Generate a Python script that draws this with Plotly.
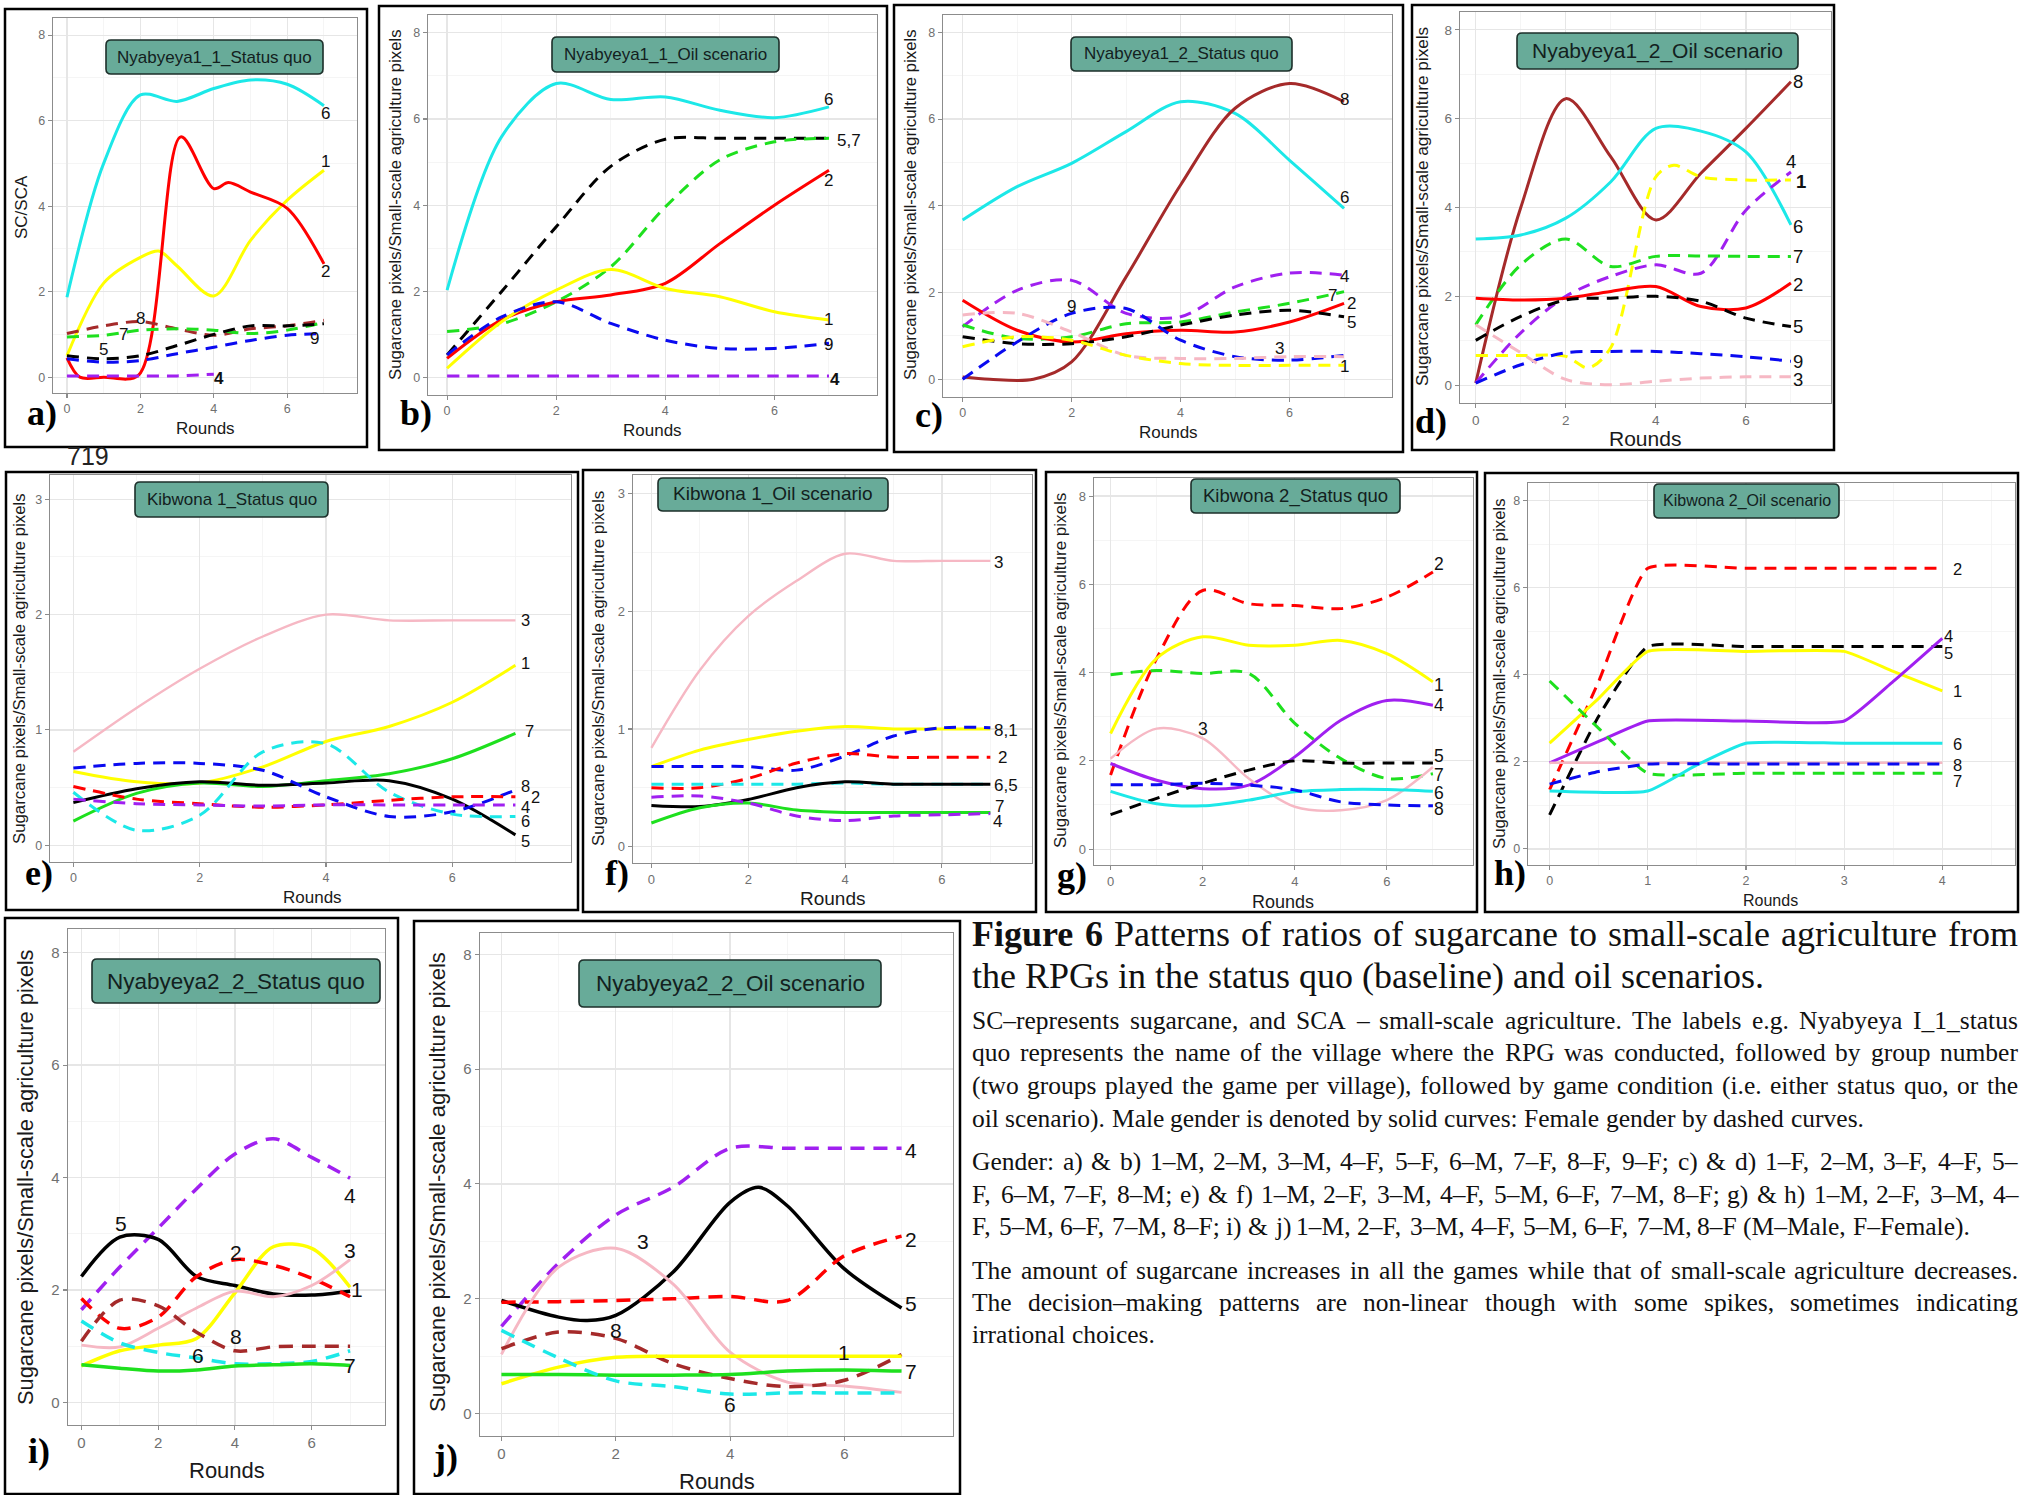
import plotly.graph_objects as go

W, H = 2022, 1495

# ====================== DATA ======================
A_ROUNDS = [0, 1, 2, 3, 4, 5, 6, 7]
A_SERIES = {
    "6": [1.87, 5.0, 6.6, 6.45, 6.75, 6.95, 6.85, 6.35],
    "1": [0.5, 2.2, 2.8, 2.95, 2.6, 1.9, 3.2, 4.14, 4.84],
    "2": [0.45, 0.0, 0.0, 0.05, 5.62, 4.41, 4.55, 4.33, 3.95, 2.65],
    "8": [1.02, 1.2, 1.3, 1.13, 0.98, 1.13, 1.2, 1.33],
    "7": [0.94, 0.98, 1.1, 1.13, 1.1, 1.02, 1.1, 1.28],
    "5": [0.5, 0.43, 0.5, 0.74, 1.0, 1.2, 1.2, 1.25],
    "9": [0.43, 0.35, 0.39, 0.55, 0.7, 0.86, 0.98, 1.02],
    "4": [0.03, 0.03, 0.03, 0.03, 0.07],
}
A_ROUNDS_ALT = {
    "1": [0, 1, 2, 2.5, 3, 4, 5, 6, 7],
    "2": [0, 0.35, 1, 1.95, 3.1, 4, 4.4, 5, 6, 7],
    "4": [0, 1, 2, 3, 4],
}

B_ROUNDS = [0, 1, 2, 3, 4, 5, 6, 7]
B_SERIES = {
    "6": [2.03, 5.59, 6.82, 6.45, 6.51, 6.2, 6.03, 6.28],
    "5": [0.53, 2.0, 3.5, 4.9, 5.53, 5.55, 5.55, 5.55],
    "7": [1.07, 1.25, 1.76, 2.57, 3.96, 5.05, 5.47, 5.55],
    "2": [0.45, 1.34, 1.76, 1.92, 2.19, 3.11, 4.0, 4.81],
    "1": [0.22, 1.3, 2.03, 2.51, 2.07, 1.88, 1.53, 1.34],
    "9": [0.53, 1.41, 1.76, 1.26, 0.87, 0.68, 0.68, 0.8],
    "4": [0.04, 0.04, 0.04, 0.04, 0.04, 0.04, 0.04, 0.04],
}
B_ROUNDS_ALT = {}

C_ROUNDS = [0, 1, 2, 3, 4, 5, 6, 7]
C_SERIES = {
    "6": [3.67, 4.44, 4.98, 5.71, 6.4, 6.13, 5.05, 3.94],
    "8": [0.05, 0.0, 0.0, 0.4, 2.36, 4.48, 6.25, 6.82, 6.4],
    "4": [1.21, 2.05, 2.28, 1.52, 1.44, 2.13, 2.45, 2.4],
    "7": [1.25, 0.94, 0.98, 1.28, 1.32, 1.55, 1.75, 2.02],
    "2": [1.82, 1.13, 0.86, 1.05, 1.13, 1.09, 1.32, 1.75],
    "5": [0.98, 0.82, 0.82, 0.98, 1.25, 1.48, 1.59, 1.44],
    "9": [0.0, 0.86, 1.52, 1.63, 0.9, 0.52, 0.44, 0.55],
    "3": [1.48, 1.52, 1.09, 0.55, 0.48, 0.48, 0.52, 0.52],
    "1": [0.75, 0.98, 0.9, 0.55, 0.36, 0.32, 0.32, 0.32],
}
C_ROUNDS_ALT = {"8": [0, 0.5, 1.3, 2, 3, 4, 5, 6, 7]}

D_ROUNDS = [0, 1, 2, 3, 4, 5, 6, 7]
D_SERIES = {
    "8": [0.05, 4.0, 6.45, 5.14, 3.72, 4.77, 5.78, 6.83],
    "6": [3.29, 3.38, 3.76, 4.58, 5.78, 5.72, 5.25, 3.61],
    "1": [0.67, 0.67, 0.65, 0.39, 0.85, 4.69, 4.95, 4.69, 4.62, 4.62],
    "4": [0.05, 1.18, 2.0, 2.45, 2.71, 2.52, 3.94, 4.8],
    "7": [1.36, 2.71, 3.29, 2.67, 2.9, 2.91, 2.9, 2.9],
    "2": [1.96, 1.92, 1.96, 2.11, 2.22, 1.77, 1.74, 2.3],
    "5": [1.01, 1.55, 1.92, 1.96, 2.0, 1.89, 1.51, 1.32],
    "9": [0.05, 0.46, 0.73, 0.76, 0.76, 0.71, 0.64, 0.54],
    "3": [1.36, 0.73, 0.13, 0.01, 0.09, 0.16, 0.19, 0.19],
}
D_ROUNDS_ALT = {"1": [0, 1, 2, 2.5, 3, 4, 4.4, 5, 6, 7]}

E_ROUNDS = [0, 1, 2, 3, 4, 5, 6, 7]
E_SERIES = {
    "3": [0.81, 1.19, 1.53, 1.81, 2.0, 1.95, 1.95, 1.95],
    "1": [0.64, 0.55, 0.54, 0.68, 0.9, 1.03, 1.24, 1.56],
    "7": [0.21, 0.45, 0.54, 0.51, 0.56, 0.62, 0.75, 0.97],
    "5": [0.37, 0.49, 0.55, 0.52, 0.54, 0.56, 0.4, 0.09],
    "8": [0.67, 0.71, 0.71, 0.65, 0.42, 0.25, 0.29, 0.48],
    "6": [0.46, 0.13, 0.26, 0.81, 0.88, 0.46, 0.27, 0.25],
    "2": [0.51, 0.4, 0.36, 0.33, 0.35, 0.39, 0.42, 0.42],
    "4": [0.4, 0.36, 0.35, 0.34, 0.35, 0.35, 0.35, 0.35],
}
E_ROUNDS_ALT = {}

F_ROUNDS = [0, 1, 2, 3, 4, 5, 6, 7]
F_SERIES = {
    "3": [0.84, 1.5, 1.96, 2.26, 2.49, 2.43, 2.43, 2.43],
    "1": [0.68, 0.82, 0.91, 0.98, 1.02, 1.0, 1.0, 1.0],
    "8": [0.68, 0.68, 0.68, 0.65, 0.77, 0.94, 1.01, 1.01],
    "2": [0.5, 0.5, 0.58, 0.71, 0.79, 0.76, 0.76, 0.76],
    "6": [0.53, 0.53, 0.53, 0.53, 0.54, 0.53, 0.53, 0.53],
    "5": [0.35, 0.34, 0.4, 0.5, 0.55, 0.53, 0.53, 0.53],
    "7": [0.2, 0.33, 0.37, 0.31, 0.29, 0.29, 0.29, 0.29],
    "4": [0.42, 0.43, 0.37, 0.26, 0.22, 0.26, 0.27, 0.28],
}
F_ROUNDS_ALT = {}

G_ROUNDS = [0, 1, 2, 3, 4, 5, 6, 7]
G_SERIES = {
    "2": [1.68, 4.32, 5.86, 5.56, 5.52, 5.45, 5.71, 6.28],
    "1": [2.62, 4.32, 4.81, 4.62, 4.62, 4.73, 4.43, 3.79],
    "7": [3.95, 4.05, 3.98, 3.98, 2.85, 2.05, 1.6, 1.71],
    "4": [1.94, 1.56, 1.37, 1.45, 2.09, 2.92, 3.37, 3.26],
    "3": [2.05, 2.73, 2.51, 1.6, 0.96, 0.88, 1.11, 1.86],
    "5": [0.78, 1.15, 1.49, 1.79, 2.0, 1.95, 1.95, 1.95],
    "6": [1.31, 1.03, 0.98, 1.11, 1.3, 1.35, 1.35, 1.31],
    "8": [1.46, 1.46, 1.49, 1.45, 1.34, 1.07, 1.0, 0.98],
}
G_ROUNDS_ALT = {}

H_ROUNDS = [0, 0.5, 1, 2, 3, 3.5, 4]
H_SERIES = {
    "2": [1.36, 3.85, 6.45, 6.45, 6.45, 6.45, 6.45],
    "5": [0.78, 3.05, 4.65, 4.65, 4.65, 4.65, 4.65],
    "1": [2.43, 3.46, 4.54, 4.54, 4.54, 4.08, 3.63],
    "4": [1.98, 2.47, 2.94, 2.94, 2.94, 3.85, 4.84],
    "7": [3.86, 2.77, 1.74, 1.74, 1.74, 1.74, 1.74],
    "3": [1.98, 1.98, 1.98, 1.98, 1.98, 1.98, 1.98],
    "6": [1.33, 1.33, 1.93, 2.43, 2.43, 2.43],
    "8": [1.49, 1.78, 1.95, 1.95, 1.95, 1.95, 1.95],
}
H_ROUNDS_ALT = {"6": [0, 1, 1.5, 2, 3, 4]}

I_ROUNDS = [0, 1, 2, 3, 4, 5, 6, 7]
I_SERIES = {
    "4": [1.65, 2.41, 3.1, 3.8, 4.42, 4.69, 4.36, 3.99],
    "5": [2.24, 2.94, 2.9, 2.24, 2.08, 1.93, 1.91, 1.98],
    "1": [0.65, 0.92, 1.02, 1.14, 1.95, 2.77, 2.74, 2.05],
    "2": [1.85, 1.32, 1.52, 2.24, 2.54, 2.44, 2.21, 1.88],
    "3": [1.02, 0.99, 1.32, 1.68, 1.98, 1.88, 2.08, 2.54],
    "8": [1.09, 1.82, 1.72, 1.25, 0.92, 0.99, 1.0, 1.0],
    "6": [1.45, 1.06, 0.89, 0.79, 0.69, 0.69, 0.73, 0.92],
    "7": [0.67, 0.61, 0.56, 0.58, 0.65, 0.67, 0.69, 0.66],
}
I_ROUNDS_ALT = {}

J_ROUNDS = [0, 1, 2, 3, 4, 5, 6, 7]
J_SERIES = {
    "4": [1.52, 2.62, 3.46, 3.94, 4.62, 4.62, 4.62, 4.62],
    "5": [1.97, 1.68, 1.62, 1.71, 2.46, 3.68, 3.94, 3.62, 2.52, 1.84],
    "2": [1.94, 1.95, 1.97, 2.0, 2.04, 1.97, 2.75, 3.09],
    "3": [1.03, 2.55, 2.88, 2.26, 1.07, 0.55, 0.48, 0.37],
    "8": [1.13, 1.42, 1.31, 0.87, 0.61, 0.47, 0.58, 1.03],
    "1": [0.52, 0.81, 0.98, 1.0, 1.0, 1.0, 1.0, 1.0],
    "7": [0.68, 0.68, 0.67, 0.67, 0.68, 0.74, 0.76, 0.74],
    "6": [1.45, 0.97, 0.57, 0.47, 0.34, 0.36, 0.36, 0.36],
}
J_ROUNDS_ALT = {"5": [0, 1, 1.5, 2, 3, 4, 4.5, 5, 6, 7]}

TITLES = ["Nyabyeya1_1_Status quo", "Nyabyeya1_1_Oil scenario", "Nyabyeya1_2_Status quo",
          "Nyabyeya1_2_Oil scenario", "Kibwona 1_Status quo", "Kibwona 1_Oil scenario",
          "Kibwona 2_Status quo", "Kibwona 2_Oil scenario", "Nyabyeya2_2_Status quo",
          "Nyabyeya2_2_Oil scenario"]
LETTERS = ["a)", "b)", "c)", "d)", "e)", "f)", "g)", "h)", "i)", "j)"]
YTITLE_LONG = "Sugarcane pixels/Small-scale agriculture pixels"
YTITLE_SHORT = "SC/SCA"
XTITLE = "Rounds"

CAPTION_TITLE = [
    "Figure 6 Patterns of ratios of sugarcane to small-scale agriculture from",
    "the RPGs in the status quo (baseline) and oil scenarios.",
]
CAPTION_PARAS = [
    ["SC–represents sugarcane, and SCA – small-scale agriculture. The labels e.g. Nyabyeya I_1_status",
     "quo represents the name of the village where the RPG was conducted, followed by group number",
     "(two groups played the game per village), followed by game condition (i.e. either status quo, or the",
     "oil scenario). Male gender is denoted by solid curves: Female gender by dashed curves."],
    ["Gender: a) & b) 1–M, 2–M, 3–M, 4–F, 5–F, 6–M, 7–F, 8–F, 9–F; c) & d) 1–F, 2–M, 3–F, 4–F, 5–",
     "F, 6–M, 7–F, 8–M; e) & f) 1–M, 2–F, 3–M, 4–F, 5–M, 6–F, 7–M, 8–F; g) & h) 1–M, 2–F, 3–M, 4–",
     "F, 5–M, 6–F, 7–M, 8–F; i) & j) 1–M, 2–F, 3–M, 4–F, 5–M, 6–F, 7–M, 8–F (M–Male, F–Female)."],
    ["The amount of sugarcane increases in all the games while that of small-scale agriculture decreases.",
     "The decision–making patterns are non-linear though with some spikes, sometimes indicating",
     "irrational choices."],
]

# ====================== STYLES ======================
YELLOW, RED, PINK, PURPLE = "#FFFF00", "#FF0000", "#F6B8C4", "#A020F0"
BLACK, CYAN, GREEN, BROWN, BLUE = "#000000", "#1CE8E8", "#1EE01E", "#A52A2A", "#0A0AF0"
COLORS_1 = {"1": YELLOW, "2": RED, "3": PINK, "4": PURPLE, "5": BLACK,
            "6": CYAN, "7": GREEN, "8": BROWN, "9": BLUE}
COLORS_2 = dict(COLORS_1, **{"8": BLUE})
SANS = "Liberation Sans"
SERIF = "Liberation Serif"
TEAL = "#68AB99"

PANELS = [
    dict(rounds=A_ROUNDS, series=A_SERIES, alt=A_ROUNDS_ALT, colors=COLORS_1,
         dashed={"8", "7", "5", "9", "4"}, ytitle=YTITLE_SHORT,
         box=(5, 9, 367, 447), plot=(53, 18, 357, 393), xr=(-0.38, 7.9), yr=(-0.37, 8.4),
         xdt=2, ydt=2, tbox=(106, 40, 323, 74), tfs=17, yt=(22, 207), xt=(205, 428), afs=17, ytfs=17,
         letter=(42, 413), lfs=17, tkfs=12.5, lw=3, smooth=0.9,
         labels=[("6", 7.05, 6.17, 0), ("1", 7.05, 5.04, 0), ("2", 7.05, 2.48, 0), ("8", 2.0, 1.37, 0),
                 ("7", 1.53, 0.99, 0), ("5", 1.0, 0.64, 0), ("9", 6.73, 0.9, 0), ("4", 4.14, -0.04, 1)]),
    dict(rounds=B_ROUNDS, series=B_SERIES, alt=B_ROUNDS_ALT, colors=COLORS_1,
         dashed={"5", "7", "9", "4"}, ytitle=YTITLE_LONG,
         box=(379, 6, 887, 450), plot=(428, 15, 877, 395), xr=(-0.35, 7.88), yr=(-0.40, 8.41),
         xdt=2, ydt=2, tbox=(552, 37, 779, 72), tfs=17, yt=(395, 205), xt=(652, 430), afs=17, ytfs=16.8,
         letter=(416, 413), lfs=17, tkfs=12.5, lw=3, smooth=0.9,
         labels=[("6", 6.99, 6.44, 0), ("5,7", 7.36, 5.51, 0), ("2", 7.0, 4.58, 0), ("1", 7.0, 1.35, 0),
                 ("9", 7.0, 0.76, 0), ("4", 7.11, -0.03, 1)]),
    dict(rounds=C_ROUNDS, series=C_SERIES, alt=C_ROUNDS_ALT, colors=COLORS_1,
         dashed={"4", "7", "5", "9", "3", "1"}, ytitle=YTITLE_LONG,
         box=(894, 5, 1403, 452), plot=(943, 15, 1392, 397), xr=(-0.36, 7.88), yr=(-0.41, 8.4),
         xdt=2, ydt=2, tbox=(1071, 37, 1292, 71), tfs=17, yt=(910, 205), xt=(1168, 432), afs=17, ytfs=16.8,
         letter=(929, 415), lfs=17, tkfs=12.5, lw=3, smooth=0.9,
         labels=[("8", 7.01, 6.45, 0), ("6", 7.01, 4.2, 0), ("4", 7.01, 2.38, 0), ("7", 6.79, 1.94, 0),
                 ("2", 7.13, 1.75, 0), ("5", 7.13, 1.3, 0), ("3", 5.82, 0.71, 0), ("1", 7.01, 0.3, 0),
                 ("9", 2.0, 1.68, 0)]),
    dict(rounds=D_ROUNDS, series=D_SERIES, alt=D_ROUNDS_ALT, colors=COLORS_1,
         dashed={"4", "7", "5", "9", "3", "1"}, ytitle=YTITLE_LONG,
         box=(1412, 5, 1834, 450), plot=(1460, 12, 1831, 403), xr=(-0.35, 7.89), yr=(-0.4, 8.4),
         xdt=2, ydt=2, tbox=(1517, 33, 1798, 69), tfs=21, yt=(1422, 207), xt=(1645, 438), afs=21, ytfs=17.2,
         letter=(1431, 421), lfs=18.5, tkfs=13.5, lw=3, smooth=0.9,
         labels=[("8", 7.15, 6.83, 0), ("4", 7.0, 5.03, 0), ("1", 7.22, 4.58, 1), ("6", 7.15, 3.57, 0),
                 ("7", 7.15, 2.9, 0), ("2", 7.15, 2.26, 0), ("5", 7.15, 1.32, 0), ("9", 7.15, 0.54, 0),
                 ("3", 7.15, 0.13, 0)]),
    dict(rounds=E_ROUNDS, series=E_SERIES, alt=E_ROUNDS_ALT, colors=COLORS_2,
         dashed={"8", "6", "2", "4"}, ytitle=YTITLE_LONG,
         box=(6, 472, 578, 910), plot=(50, 475, 571, 862), xr=(-0.37, 7.88), yr=(-0.145, 3.21),
         xdt=2, ydt=1, tbox=(135, 482, 328, 517), tfs=17, yt=(19, 669), xt=(312, 897), afs=17, ytfs=16.8,
         letter=(39, 873), lfs=16.5, tkfs=12.5, lw=3, smooth=0.9,
         labels=[("3", 7.16, 1.95, 0), ("1", 7.16, 1.58, 0), ("7", 7.23, 0.99, 0), ("8", 7.16, 0.51, 0),
                 ("2", 7.32, 0.42, 0), ("4", 7.16, 0.33, 0), ("6", 7.16, 0.21, 0), ("5", 7.16, 0.04, 0)]),
    dict(rounds=F_ROUNDS, series=F_SERIES, alt=F_ROUNDS_ALT, colors=COLORS_2,
         dashed={"8", "6", "2", "4"}, ytitle=YTITLE_LONG,
         box=(583, 470, 1036, 912), plot=(633, 475, 1032, 863), xr=(-0.38, 7.86), yr=(-0.14, 3.16),
         xdt=2, ydt=1, tbox=(658, 478, 888, 511), tfs=19, yt=(598, 669), xt=(833, 898), afs=19, ytfs=17,
         letter=(617, 873), lfs=17, tkfs=13, lw=3, smooth=0.9,
         labels=[("3", 7.16, 2.42, 0), ("8,1", 7.33, 0.99, 0), ("2", 7.26, 0.76, 0), ("6,5", 7.33, 0.52, 0),
                 ("7", 7.19, 0.34, 0), ("4", 7.14, 0.21, 0)]),
    dict(rounds=G_ROUNDS, series=G_SERIES, alt=G_ROUNDS_ALT, colors=COLORS_2,
         dashed={"2", "7", "5", "8"}, ytitle=YTITLE_LONG,
         box=(1046, 472, 1477, 912), plot=(1094, 478, 1473, 865), xr=(-0.36, 7.87), yr=(-0.36, 8.41),
         xdt=2, ydt=2, tbox=(1191, 479, 1400, 513), tfs=18.5, yt=(1060, 671), xt=(1283, 902), afs=18, ytfs=17,
         letter=(1072, 875), lfs=17.5, tkfs=13, lw=3, smooth=0.9,
         labels=[("2", 7.14, 6.45, 0), ("1", 7.14, 3.71, 0), ("4", 7.14, 3.26, 0), ("3", 2.01, 2.73, 0),
                 ("5", 7.14, 2.12, 0), ("7", 7.14, 1.68, 0), ("6", 7.14, 1.28, 0), ("8", 7.14, 0.92, 0)]),
    dict(rounds=H_ROUNDS, series=H_SERIES, alt=H_ROUNDS_ALT, colors=COLORS_2,
         dashed={"2", "7", "5", "8"}, ytitle=YTITLE_LONG,
         box=(1485, 473, 2018, 912), plot=(1528, 483, 2015, 865), xr=(-0.22, 4.74), yr=(-0.37, 8.41),
         xdt=1, ydt=2, tbox=(1654, 484, 1839, 518), tfs=16, yt=(1499, 674), xt=(1770, 900), afs=16, ytfs=16.8,
         letter=(1510, 873), lfs=16.5, tkfs=12.5, lw=3, smooth=0.45,
         labels=[("2", 4.15, 6.44, 0), ("4", 4.06, 4.9, 0), ("5", 4.06, 4.5, 0), ("1", 4.15, 3.62, 0),
                 ("6", 4.15, 2.41, 0), ("8", 4.15, 1.93, 0), ("7", 4.15, 1.56, 0)]),
    dict(rounds=I_ROUNDS, series=I_SERIES, alt=I_ROUNDS_ALT, colors=COLORS_1,
         dashed={"4", "2", "8", "6"}, ytitle=YTITLE_LONG,
         box=(5, 918, 398, 1494), plot=(68, 929, 385, 1425), xr=(-0.35, 7.91), yr=(-0.4, 8.42),
         xdt=2, ydt=2, tbox=(92, 959, 380, 1003), tfs=22.5, yt=(25, 1177), xt=(227, 1470), afs=22, ytfs=21.8,
         letter=(39, 1451), lfs=21, tkfs=15, lw=3.5, smooth=0.9,
         labels=[("4", 7.0, 3.68, 0), ("5", 1.02, 3.18, 0), ("2", 4.02, 2.67, 0), ("3", 7.0, 2.71, 0),
                 ("1", 7.17, 2.01, 0), ("8", 4.02, 1.17, 0), ("6", 3.04, 0.83, 0), ("7", 7.0, 0.65, 0)]),
    dict(rounds=J_ROUNDS, series=J_SERIES, alt=J_ROUNDS_ALT, colors=COLORS_1,
         dashed={"4", "2", "8", "6"}, ytitle=YTITLE_LONG,
         box=(414, 921, 960, 1494), plot=(480, 933, 953, 1436), xr=(-0.375, 7.9), yr=(-0.39, 8.37),
         xdt=2, ydt=2, tbox=(579, 960, 881, 1007), tfs=22.5, yt=(437, 1182), xt=(717, 1481), afs=22, ytfs=22,
         letter=(445, 1457), lfs=21, tkfs=15, lw=3.5, smooth=0.9,
         labels=[("4", 7.16, 4.59, 0), ("2", 7.16, 3.04, 0), ("5", 7.16, 1.91, 0), ("3", 2.48, 2.99, 0),
                 ("8", 2.0, 1.45, 0), ("1", 6.0, 1.07, 0), ("7", 7.16, 0.74, 0), ("6", 4.0, 0.16, 0)]),
]


def PX(v):
    return v / W


def PY(v):
    return 1 - v / H


def rounded_path(x0, y0, x1, y1, r):
    X = lambda v: f"{PX(v):.6f}"
    Y = lambda v: f"{PY(v):.6f}"
    return (f"M {X(x0 + r)},{Y(y0)} L {X(x1 - r)},{Y(y0)} Q {X(x1)},{Y(y0)} {X(x1)},{Y(y0 + r)} "
            f"L {X(x1)},{Y(y1 - r)} Q {X(x1)},{Y(y1)} {X(x1 - r)},{Y(y1)} "
            f"L {X(x0 + r)},{Y(y1)} Q {X(x0)},{Y(y1)} {X(x0)},{Y(y1 - r)} "
            f"L {X(x0)},{Y(y0 + r)} Q {X(x0)},{Y(y0)} {X(x0 + r)},{Y(y0)} Z")


fig = go.Figure()
annotations = []
shapes = []
layout_axes = {}

for n, p in enumerate(PANELS, start=1):
    xa = "x" if n == 1 else f"x{n}"
    ya = "y" if n == 1 else f"y{n}"
    # curves
    for lab, vals in p["series"].items():
        xs = p["alt"].get(lab, p["rounds"])
        col = p["colors"][lab]
        dashed = lab in p["dashed"]
        width = p["lw"]
        if col == PINK and not dashed:
            width = p["lw"] - 0.6
        dash = ("14px,9px" if p["lw"] > 3.2 else "12px,8px") if dashed else "solid"
        fig.add_trace(go.Scatter(
            x=xs, y=vals, xaxis=xa, yaxis=ya, mode="lines", hoverinfo="skip", showlegend=False,
            line=dict(color=col, width=width, dash=dash, shape="spline", smoothing=p["smooth"])))
    # axes
    px0, py0, px1, py1 = p["plot"]
    common = dict(showline=True, mirror=True, linecolor="#8c8c8c", linewidth=1.3,
                  ticks="outside", ticklen=4, tickwidth=1.1, tickcolor="#8c8c8c",
                  tickfont=dict(family=SANS, size=p["tkfs"], color="#707070"),
                  showgrid=True, gridcolor="#E6E6E6", gridwidth=1.2, zeroline=False,
                  fixedrange=True, tick0=0)
    layout_axes["xaxis" if n == 1 else f"xaxis{n}"] = dict(
        common, domain=[PX(px0), PX(px1)], anchor=ya, range=list(p["xr"]), dtick=p["xdt"],
        minor=dict(dtick=p["xdt"] / 2, tick0=0, showgrid=True, gridcolor="#F2F2F2", gridwidth=0.8))
    layout_axes["yaxis" if n == 1 else f"yaxis{n}"] = dict(
        common, domain=[PY(py1), PY(py0)], anchor=xa, range=list(p["yr"]), dtick=p["ydt"],
        minor=dict(dtick=p["ydt"] / 2, tick0=0, showgrid=True, gridcolor="#F2F2F2", gridwidth=0.8))
    # outer frame
    bx0, by0, bx1, by1 = p["box"]
    shapes.append(dict(type="rect", xref="paper", yref="paper", x0=PX(bx0), x1=PX(bx1),
                       y0=PY(by1), y1=PY(by0), line=dict(color="#000000", width=2.5),
                       fillcolor="rgba(0,0,0,0)", layer="above"))
    # title box
    tx0, ty0, tx1, ty1 = p["tbox"]
    shapes.append(dict(type="path", xref="paper", yref="paper",
                       path=rounded_path(tx0, ty0, tx1, ty1, 5),
                       fillcolor=TEAL, line=dict(color="#1c2f2a", width=1.6), layer="above"))
    annotations.append(dict(x=PX((tx0 + tx1) / 2), y=PY((ty0 + ty1) / 2), xref="paper", yref="paper",
                            text=TITLES[n - 1], showarrow=False, xanchor="center", yanchor="middle",
                            font=dict(family=SANS, size=p["tfs"], color="#13211e")))
    # axis titles
    annotations.append(dict(x=PX(p["yt"][0]), y=PY(p["yt"][1]), xref="paper", yref="paper",
                            text=p["ytitle"], textangle=-90, showarrow=False,
                            xanchor="center", yanchor="middle",
                            font=dict(family=SANS, size=p["ytfs"], color="#1a1a1a")))
    annotations.append(dict(x=PX(p["xt"][0]), y=PY(p["xt"][1]), xref="paper", yref="paper",
                            text=XTITLE, showarrow=False, xanchor="center", yanchor="middle",
                            font=dict(family=SANS, size=p["afs"], color="#1a1a1a")))
    # panel letter
    annotations.append(dict(x=PX(p["letter"][0]), y=PY(p["letter"][1]), xref="paper", yref="paper",
                            text=f"<b>{LETTERS[n - 1]}</b>", showarrow=False,
                            xanchor="center", yanchor="middle",
                            font=dict(family=SERIF, size=36, color="#000000")))
    # curve labels
    for txt, lx, ly, bold in p["labels"]:
        annotations.append(dict(x=lx, y=ly, xref=xa, yref=ya, showarrow=False,
                                text=f"<b>{txt}</b>" if bold else txt,
                                xanchor="center", yanchor="middle",
                                font=dict(family=SANS, size=p["lfs"], color="#111111")))

# stray page number
annotations.append(dict(x=PX(88), y=PY(456), xref="paper", yref="paper", text="719",
                        showarrow=False, xanchor="center", yanchor="middle",
                        font=dict(family=SANS, size=25, color="#222222")))

# ---------------- caption (justified with Times metrics) ----------------
TW = {' ': 250, '!': 333, '(': 333, ')': 333, ',': 250, '-': 333, '.': 250, '/': 278,
      ':': 278, ';': 278, '&': 778, '_': 500, '–': 500, "'": 333}
for d in "0123456789":
    TW[d] = 500
TW.update(dict(A=722, B=667, C=667, D=722, E=611, F=556, G=722, H=722, I=333, J=389, K=722,
               L=611, M=889, N=722, O=722, P=556, Q=722, R=667, S=556, T=611, U=722, V=722,
               W=944, X=722, Y=722, Z=611))
TW.update(dict(a=444, b=500, c=444, d=500, e=444, f=333, g=500, h=500, i=278, j=278, k=500,
               l=278, m=778, n=500, o=500, p=500, q=500, r=333, s=389, t=278, u=500, v=500,
               w=722, x=500, y=500, z=444))
TWB = dict(F=611, i=278, g=500, u=556, r=444, e=444)


def word_width(word, size, bold=False):
    tot = 0
    for ch in word:
        if bold and ch in TWB:
            tot += TWB[ch]
        else:
            tot += TW.get(ch, 500)
    return tot * size / 1000.0


CAP_X0, CAP_X1 = 972, 2018


def place_line(line, ycen, size, justify, nbold=0):
    words = line.split(" ")
    bolds = [i < nbold for i in range(len(words))]
    widths = [word_width(w, size, b) for w, b in zip(words, bolds)]
    if justify and len(words) > 1:
        gap = (CAP_X1 - CAP_X0 - sum(widths)) / (len(words) - 1)
    else:
        gap = 250 * size / 1000.0
    x = CAP_X0
    for w, b, wd in zip(words, bolds, widths):
        t = w.replace("&", "&amp;")
        if b:
            t = f"<b>{t}</b>"
        annotations.append(dict(x=PX(x), y=PY(ycen), xref="paper", yref="paper", text=t,
                                showarrow=False, xanchor="left", yanchor="middle", borderpad=0,
                                borderwidth=0,
                                font=dict(family=SERIF, size=size, color="#111111")))
        x += wd + gap


place_line(CAPTION_TITLE[0], 934, 36, True, nbold=2)
place_line(CAPTION_TITLE[1], 976, 36, False)
para_y = [[1020, 1052, 1085, 1118], [1161, 1194, 1226], [1270, 1302, 1334]]
for para, ys in zip(CAPTION_PARAS, para_y):
    for k, (line, yc) in enumerate(zip(para, ys)):
        place_line(line, yc, 25.5, k < len(para) - 1)

fig.update_layout(width=W, height=H, margin=dict(l=0, r=0, t=0, b=0),
                  paper_bgcolor="white", plot_bgcolor="white", showlegend=False,
                  annotations=annotations, shapes=shapes, **layout_axes)

fig.write_html("out.html", config={"displayModeBar": False, "staticPlot": True},
               post_script="document.body.style.margin='0px';document.body.style.overflow='hidden';")
